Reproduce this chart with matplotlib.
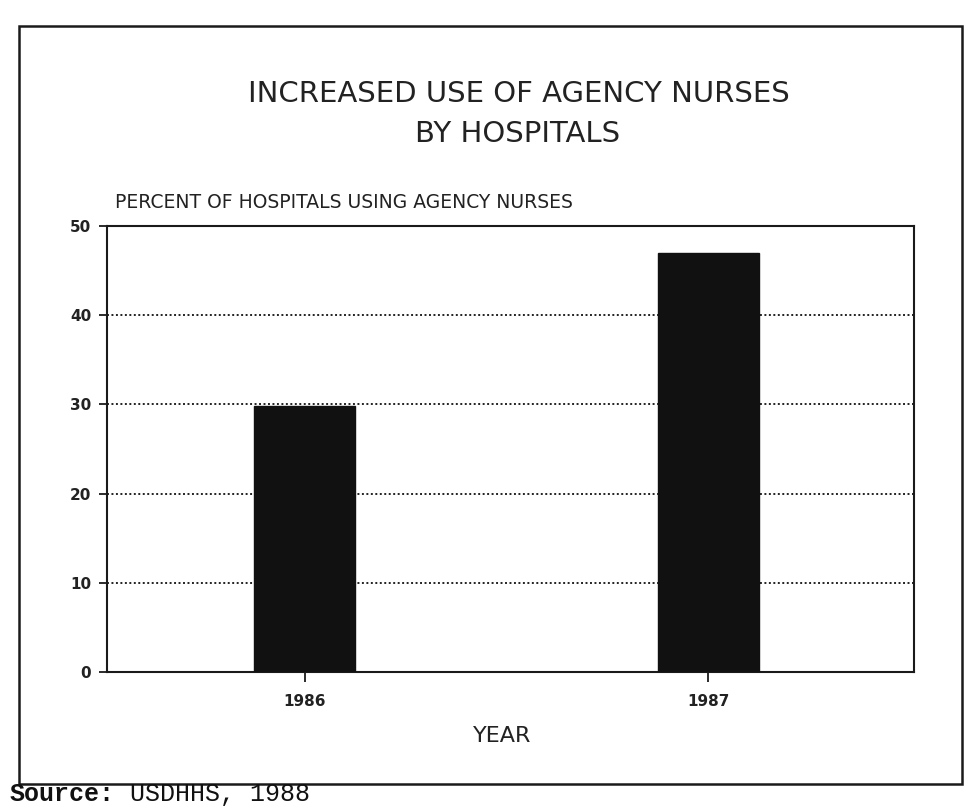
import matplotlib
matplotlib.use("Agg")
import matplotlib.pyplot as plt
from matplotlib.patches import Rectangle

# ---- data ----
years = ["1986", "1987"]
percent_using_agency = [29.8, 47.0]
y_ticks = [0, 10, 20, 30, 40, 50]
grid_levels = [10, 20, 30, 40]

title_line1 = "INCREASED USE OF AGENCY NURSES"
title_line2 = "BY HOSPITALS"
y_caption = "PERCENT OF HOSPITALS USING AGENCY NURSES"
x_caption = "YEAR"
source_bold = "Source:"
source_rest = "USDHHS, 1988"

W, H = 968, 808
fig = plt.figure(figsize=(W / 100, H / 100), dpi=100)
fig.patch.set_facecolor("white")

def fx(px):
    return px / W

def fy(py):
    return (H - py) / H

# outer frame
frame = Rectangle((fx(19), fy(784)), fx(962) - fx(19), fy(26) - fy(784),
                  transform=fig.transFigure, fill=False, lw=1.8,
                  edgecolor="#1a1a1a", zorder=0)
fig.patches.append(frame)

# axes
ax = fig.add_axes([fx(107), fy(672), fx(914) - fx(107), fy(226) - fy(672)])
x = list(range(len(years)))
ax.bar(x, percent_using_agency, width=0.25, color="#111111",
       edgecolor="#111111", zorder=3)
for g in grid_levels:
    ax.axhline(g, color="#222222", lw=1.4, linestyle=(0, (1, 1.3)), zorder=1)

ax.set_xlim(-0.49, 1.51)
ax.set_ylim(0, 50)
ax.set_xticks(x)
ax.set_xticklabels(years, fontsize=11, fontweight="bold", color="#222222")
ax.set_yticks(y_ticks)
ax.set_yticklabels([str(t) for t in y_ticks], fontsize=11,
                   fontweight="bold", color="#222222")
ax.tick_params(axis="y", direction="out", length=5.8, width=1.3, pad=5.5,
               color="#1a1a1a")
ax.tick_params(axis="x", direction="out", length=7.2, width=1.3, pad=8.5,
               color="#1a1a1a")
for s in ax.spines.values():
    s.set_linewidth(1.5)
    s.set_color("#1a1a1a")

# texts
fig.text(fx(519), fy(93.5), title_line1, ha="center", va="center",
         fontsize=21, color="#222222")
fig.text(fx(518), fy(134), title_line2, ha="center", va="center",
         fontsize=21, color="#222222")
fig.text(fx(115), fy(203), y_caption, ha="left", va="center",
         fontsize=13.5, color="#222222")
fig.text(fx(502), fy(735.5), x_caption, ha="center", va="center",
         fontsize=16, color="#222222")

fs_src = 18
cw = fs_src * 100 / 72 * 0.6
fig.text(fx(10), fy(801), source_bold, ha="left", va="baseline",
         fontsize=fs_src, family="Liberation Mono", fontweight="bold",
         color="#111111")
fig.text(fx(10 + 8 * cw), fy(801), source_rest, ha="left", va="baseline",
         fontsize=fs_src, family="Liberation Mono", color="#111111")

fig.savefig("out.png", dpi=100, facecolor="white")
